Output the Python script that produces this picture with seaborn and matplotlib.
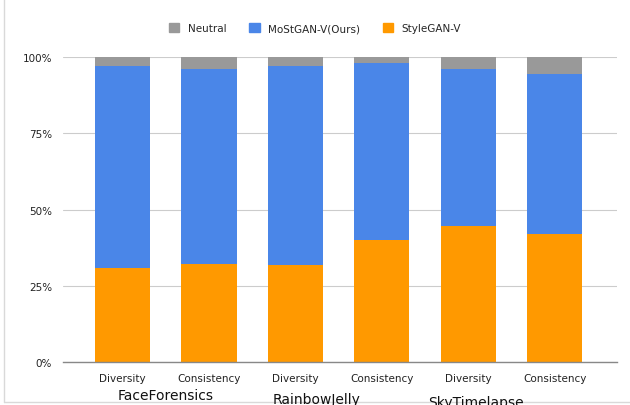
import numpy as np
import pandas as pd
import seaborn as sns
from matplotlib import pyplot as plt
from matplotlib.patches import Patch
from matplotlib.lines import Line2D

# values (percent)
bar_labels = ["Diversity", "Consistency", "Diversity", "Consistency", "Diversity", "Consistency"]
datasets = ["FaceForensics", "RainbowJelly", "SkyTimelapse"]
stylegan = [30.8, 32.1, 31.8, 40.0, 44.6, 42.0]
mostgan = [66.2, 64.0, 65.2, 58.2, 51.5, 52.3]
neutral = [3.0, 3.9, 3.0, 1.8, 3.9, 5.7]

colors = {"Neutral": "#999999", "MoStGAN-V(Ours)": "#4a86e8", "StyleGAN-V": "#ff9900"}

df = pd.DataFrame({
    "bar": [str(i) for i in range(len(bar_labels))],
    "StyleGAN-V": stylegan,
    "MoStGAN-V(Ours)": mostgan,
    "Neutral": neutral,
})
df["blue_top"] = df["StyleGAN-V"] + df["MoStGAN-V(Ours)"]
df["gray_top"] = df["blue_top"] + df["Neutral"]

sns.set_style("white")
plt.rcParams["font.family"] = ["DejaVu Sans"]

fig = plt.figure(figsize=(6.3, 4.06), dpi=100)
ax = fig.add_axes([0.1, 0.106, 0.879, 0.751])

# stacked: draw the cumulative tops from tallest down
for col, key in [("gray_top", "Neutral"), ("blue_top", "MoStGAN-V(Ours)"), ("StyleGAN-V", "StyleGAN-V")]:
    sns.barplot(data=df, x="bar", y=col, color=colors[key], width=0.64,
                saturation=1, linewidth=0, ax=ax, zorder=2)

ax.set_ylim(0, 100)
ax.set_xlim(-0.69, 5.72)
ax.set_yticks([0, 25, 50, 75, 100])
ax.set_yticklabels(["0%", "25%", "50%", "75%", "100%"], fontsize=7.5, color="#222222")
ax.set_xticks(range(len(bar_labels)))
ax.set_xticklabels(bar_labels, fontsize=7.5, color="#222222")
ax.tick_params(axis="both", length=0, pad=8)
ax.set_xlabel("")
ax.set_ylabel("")
ax.yaxis.grid(True, color="#cccccc", linewidth=0.8, zorder=0)
ax.set_axisbelow(True)
for s in ["top", "right", "left"]:
    ax.spines[s].set_visible(False)
ax.spines["bottom"].set_color("#888888")
ax.spines["bottom"].set_linewidth(1)

# dataset group names under the tick labels
for x, y, name in zip([0.5, 2.25, 4.09], [-0.108, -0.121, -0.131], datasets):
    ax.text(x, y, name, transform=ax.get_xaxis_transform(), ha="center", va="center",
            fontsize=10, color="#111111")

# light frame on left and bottom of the image
fig.add_artist(Line2D([0.0063, 0.0063], [0.0074, 1.0], transform=fig.transFigure,
                      color="#d9d9d9", linewidth=1))
fig.add_artist(Line2D([0.0063, 1.0], [0.0074, 0.0074], transform=fig.transFigure,
                      color="#d9d9d9", linewidth=1, zorder=0))

handles = [Patch(color=colors[k]) for k in ["Neutral", "MoStGAN-V(Ours)", "StyleGAN-V"]]
fig.legend(handles, ["Neutral", "MoStGAN-V(Ours)", "StyleGAN-V"], loc="center",
           bbox_to_anchor=(0.5, 0.928), ncol=3, frameon=False, fontsize=7.5,
           handlelength=1.0, handleheight=1.0, handletextpad=0.8, columnspacing=2.2)

fig.savefig("out.png", dpi=100)
